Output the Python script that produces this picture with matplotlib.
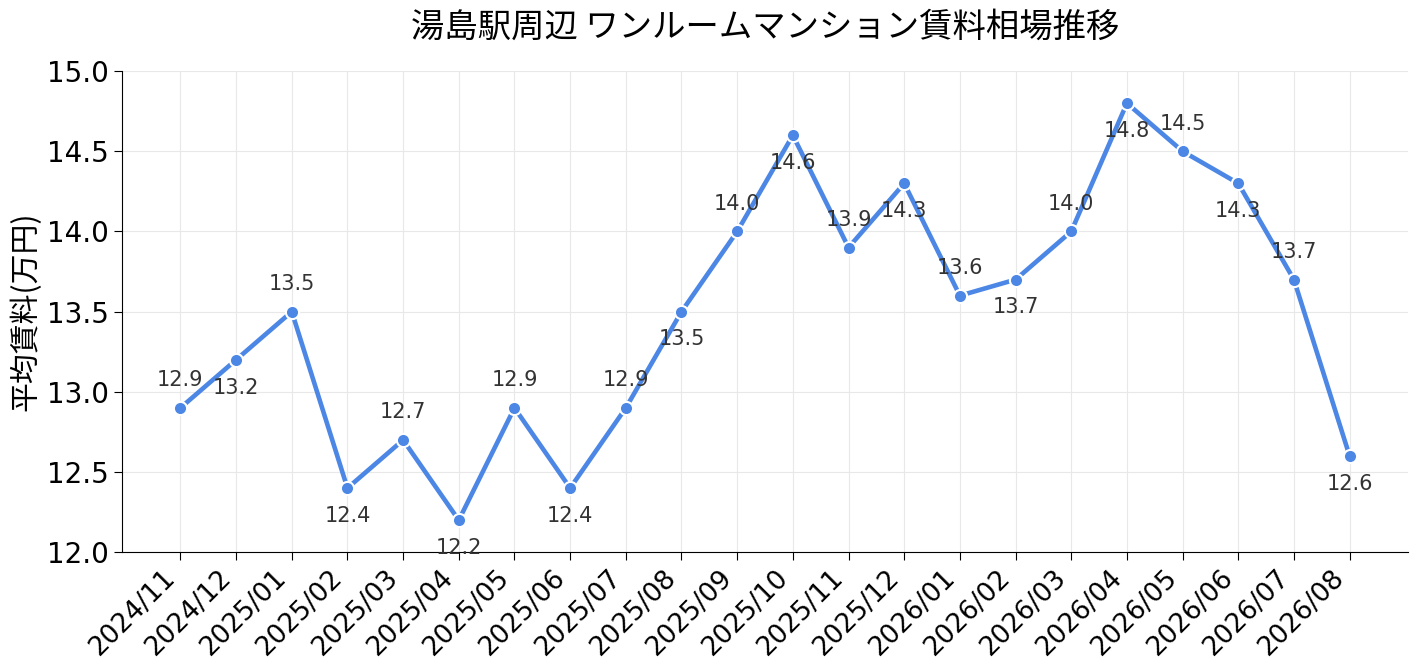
import matplotlib
matplotlib.use("Agg")
from matplotlib import pyplot as plt

plt.rcParams['font.family'] = ['DejaVu Sans', 'Noto Sans CJK JP']

# data
months = ["2024/11", "2024/12", "2025/01", "2025/02", "2025/03", "2025/04",
          "2025/05", "2025/06", "2025/07", "2025/08", "2025/09", "2025/10",
          "2025/11", "2025/12", "2026/01", "2026/02", "2026/03", "2026/04",
          "2026/05", "2026/06", "2026/07", "2026/08"]
rent = [12.9, 13.2, 13.5, 12.4, 12.7, 12.2, 12.9, 12.4, 12.9, 13.5, 14.0, 14.6,
        13.9, 14.3, 13.6, 13.7, 14.0, 14.8, 14.5, 14.3, 13.7, 12.6]

line_color = "#4C87E6"

fig, ax = plt.subplots(figsize=(14.18, 6.71), dpi=100)
fig.subplots_adjust(left=0.086, right=0.993, top=0.894, bottom=0.177)

x = list(range(len(months)))
ax.plot(x, rent, color=line_color, linewidth=3.3, marker="o", markersize=9.5,
        markerfacecolor=line_color, markeredgecolor="white", markeredgewidth=1.5,
        zorder=3)

# value labels, alternating above / below
for i, v in enumerate(rent):
    dy = 20 if i % 2 == 0 else -20
    ax.annotate(f"{v:.1f}", (i, v), xytext=(0, dy), textcoords="offset points",
                ha="center", va="center", fontsize=15, color="#333333")

ax.set_ylim(12.0, 15.0)
ax.set_yticks([12.0, 12.5, 13.0, 13.5, 14.0, 14.5, 15.0])
ax.set_xticks(x)
ax.set_xticklabels(months, rotation=45, ha="right", fontsize=19)
ax.tick_params(axis="y", labelsize=20, length=6)
ax.tick_params(axis="x", length=6)

ax.set_ylabel("平均賃料(万円)", fontsize=21.5, family=['Noto Sans CJK JP'])
ax.set_title("湯島駅周辺 ワンルームマンション賃料相場推移", fontsize=24, pad=25,
             family=['Noto Sans CJK JP'])

ax.grid(True, color="#e8e8e8", linewidth=0.8)
ax.set_axisbelow(True)
ax.spines["top"].set_visible(False)
ax.spines["right"].set_visible(False)

plt.savefig("out.png", dpi=100)
